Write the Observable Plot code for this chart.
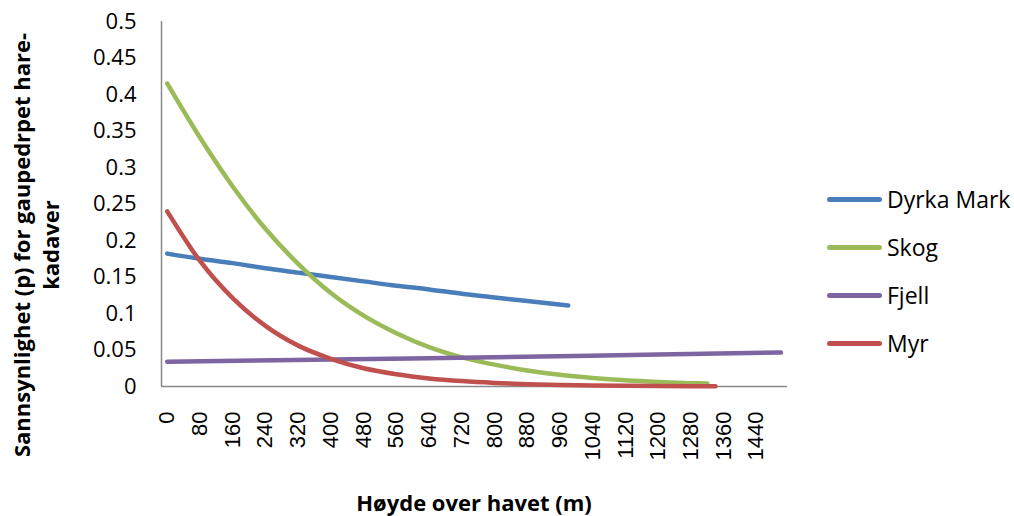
<!DOCTYPE html>
<html><head><meta charset="utf-8">
<script src="https://cdn.jsdelivr.net/npm/d3@7"></script>
<script src="https://cdn.jsdelivr.net/npm/@observablehq/plot@0.6"></script>
<style>
body{margin:0;background:#fff;}
#wrap{position:relative;width:1014px;height:516px;overflow:hidden;font-family:"Open Sans",sans-serif;color:#000;}
#wrap svg{position:absolute;left:0;top:0;}
.ytitle{position:absolute;width:480px;left:-204px;top:216px;height:58px;transform:rotate(-90deg);transform-origin:center center;text-align:center;font-weight:bold;font-size:22px;line-height:29px;white-space:nowrap;}
.xtitle{position:absolute;left:274px;width:400px;top:487px;text-align:center;font-weight:bold;font-size:22px;line-height:30px;white-space:nowrap;}
.lrow{position:absolute;left:827px;height:30px;display:flex;align-items:center;font-size:23px;white-space:nowrap;}
.lsw{width:55px;height:5px;border-radius:3px;margin-right:5px;}
</style></head><body><div id="wrap"></div>
<script>
const seriesNames = ["Dyrka Mark", "Skog", "Fjell", "Myr"];
const seriesColors = ["#4A7EBB", "#9BBB59", "#7F64A2", "#C0504D"];

const dyrkaX = [0, 80, 160, 240, 320, 400, 480, 560, 640, 720, 800, 880, 980];
const dyrkaY = [0.182, 0.175, 0.169, 0.162, 0.156, 0.150, 0.144, 0.138, 0.133, 0.127, 0.122, 0.117, 0.111];

const skogX = [0, 80, 160, 240, 320, 400, 480, 560, 640, 720, 800, 880, 960, 1040, 1120, 1200, 1280, 1320];
const skogY = [0.415, 0.341, 0.274, 0.216, 0.168, 0.128, 0.097, 0.073, 0.054, 0.040, 0.030, 0.022, 0.016, 0.0118, 0.0086, 0.0063, 0.0046, 0.0040];

const fjellX = [0, 400, 800, 1200, 1500];
const fjellY = [0.034, 0.037, 0.0402, 0.0438, 0.0466];

const myrX = [0, 80, 160, 240, 320, 400, 480, 560, 640, 720, 800, 880, 960, 1040, 1120, 1200, 1280, 1340];
const myrY = [0.240, 0.172, 0.121, 0.083, 0.056, 0.038, 0.025, 0.0168, 0.0111, 0.0074, 0.0049, 0.0032, 0.0021, 0.0014, 0.0009, 0.0006, 0.0004, 0.0003];

const xTicks = [0, 80, 160, 240, 320, 400, 480, 560, 640, 720, 800, 880, 960, 1040, 1120, 1200, 1280, 1360, 1440];
const yTicks = [0, 0.05, 0.1, 0.15, 0.2, 0.25, 0.3, 0.35, 0.4, 0.45, 0.5];
const xDomain = [-14, 1516];

const xTitle = "Høyde over havet (m)";
const yTitleLines = ["Sannsynlighet (p) for gaupedrpet hare-", "kadaver"];

const allX = [dyrkaX, skogX, fjellX, myrX];
const allY = [dyrkaY, skogY, fjellY, myrY];
const rows = [];
seriesNames.forEach((name, i) => {
  allX[i].forEach((h, j) => rows.push({series: name, h, p: allY[i][j]}));
});

const plot = Plot.plot({
  width: 1014, height: 516,
  marginLeft: 161, marginRight: 227, marginTop: 21, marginBottom: 130,
  x: {domain: xDomain},
  y: {domain: [0, 0.5]},
  color: {domain: seriesNames, range: seriesColors},
  style: {fontFamily: "Open Sans", color: "#000", background: "#fff", overflow: "visible"},
  marks: [
    Plot.axisY({ticks: yTicks, tickSize: 0, tickPadding: 25, fontSize: 22, tickFormat: d => String(d), label: null}),
    Plot.axisX({ticks: xTicks, tickSize: 0, tickRotate: -90, tickPadding: 25, fontSize: 22, fontFamily: "Liberation Sans", tickFormat: d => String(d), label: null}),
    Plot.ruleX([xDomain[0]], {stroke: "#898989", strokeWidth: 1.5}),
    Plot.ruleY([0], {stroke: "#898989", strokeWidth: 1.5}),
    Plot.line(rows, {x: "h", y: "p", z: "series", stroke: "series", strokeWidth: 4.5, curve: "monotone-x", strokeLinecap: "round", strokeLinejoin: "round"})
  ]
});
const wrap = document.getElementById("wrap");
wrap.appendChild(plot);

const yt = document.createElement("div");
yt.className = "ytitle";
yt.innerHTML = yTitleLines.join("<br>");
wrap.appendChild(yt);

const xt = document.createElement("div");
xt.className = "xtitle";
xt.textContent = xTitle;
wrap.appendChild(xt);

seriesNames.forEach((name, i) => {
  const r = document.createElement("div");
  r.className = "lrow";
  r.style.top = (199 - 15 + i * 48) + "px";
  const sw = document.createElement("div");
  sw.className = "lsw";
  sw.style.background = seriesColors[i];
  const t = document.createElement("span");
  t.textContent = name;
  r.appendChild(sw); r.appendChild(t);
  wrap.appendChild(r);
});
</script></body></html>
